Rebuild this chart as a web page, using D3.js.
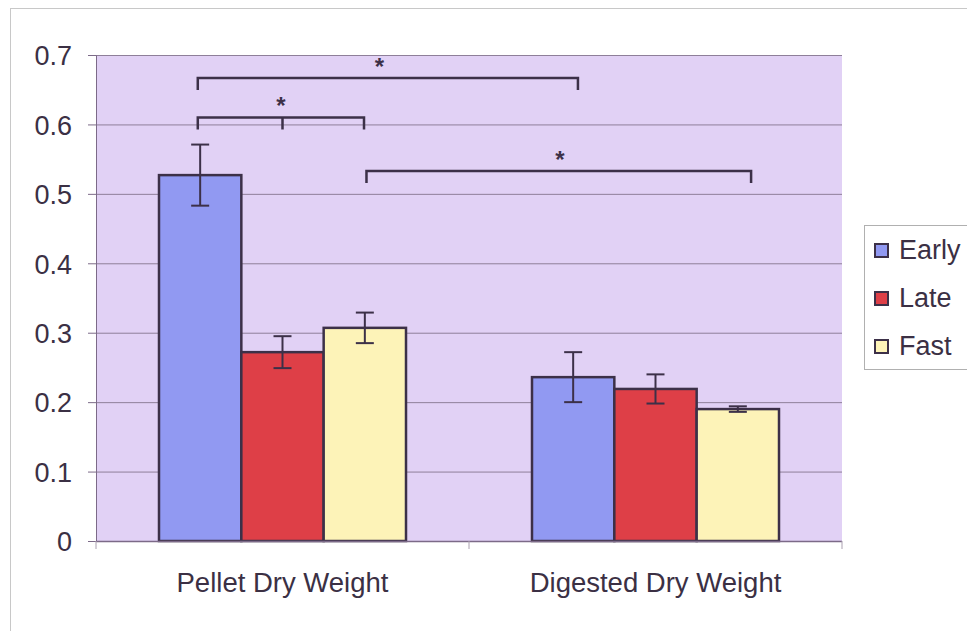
<!DOCTYPE html>
<html><head><meta charset="utf-8">
<script src="https://cdn.jsdelivr.net/npm/d3@7"></script>
<style>body{margin:0;background:#fff}svg{display:block}</style>
</head><body>
<svg id="c" width="967" height="631"></svg>
<script>
const categories = ["Pellet Dry Weight", "Digested Dry Weight"];
const seriesNames = ["Early", "Late", "Fast"];
const early = [0.527, 0.236];
const late = [0.272, 0.219];
const fast = [0.307, 0.190];
const earlyErr = [0.044, 0.036];
const lateErr = [0.023, 0.021];
const fastErr = [0.022, 0.004];
const yTicks = [0, 0.1, 0.2, 0.3, 0.4, 0.5, 0.6, 0.7];
// significance brackets: endpoints as [category index, position within group 0..1], level in data units
const brackets = [
  {from: [0, 0.157], to: [1, 0.186], mid: null, level: 0.667, starAt: 0.478, label: "*"},
  {from: [0, 0.157], to: [0, 0.83], mid: [0, 0.5], level: 0.610, starAt: 0.5, label: "*"},
  {from: [0, 0.84], to: [1, 0.887], mid: null, level: 0.533, starAt: 0.503, label: "*"}
];
const colors = ["#9199f2", "#de3f47", "#fdf3b8"];
const values = [early, late, fast];
const errs = [earlyErr, lateErr, fastErr];

const svg = d3.select("#c");
const m = {l: 96, r: 842, t: 55, b: 541};
const textCol = "#3b3044";
const lineCol = "#3c3048";
const font = "Liberation Sans, Arial, sans-serif";

// outer frame
svg.append("rect").attr("x", 10.5).attr("y", 8.5).attr("width", 970).attr("height", 640)
  .attr("fill", "#fff").attr("stroke", "#c8c8c8").attr("stroke-width", 1);

const x0 = d3.scaleBand().domain(categories).range([m.l, m.r]).paddingInner(0).paddingOuter(0);
const x1 = d3.scaleBand().domain(seriesNames).range([63, 63 + 247]).paddingInner(0).paddingOuter(0);
const y = d3.scaleLinear().domain([0, 0.7]).range([m.b, m.t]);

// plot background
svg.append("rect").attr("x", m.l).attr("y", m.t).attr("width", m.r - m.l).attr("height", m.b - m.t)
  .attr("fill", "#e1d1f5");

// gridlines
svg.append("g").selectAll("line").data(yTicks.filter(d => d > 0)).join("line")
  .attr("x1", m.l).attr("x2", m.r).attr("y1", d => y(d) + 0.5).attr("y2", d => y(d) + 0.5)
  .attr("stroke", "#8e7f99").attr("stroke-width", 1);

// y axis
const yAxis = d3.axisLeft(y).tickValues(yTicks).tickSize(8).tickPadding(16)
  .tickFormat(d => d === 0 ? "0" : d3.format(".1f")(d));
const ya = svg.append("g").attr("transform", `translate(${m.l},0)`).call(yAxis);
ya.select(".domain").attr("stroke", "#7c6a88");
ya.selectAll(".tick line").attr("stroke", "#7c6a88");
ya.selectAll("text").attr("font-family", font).attr("font-size", 27)
  .attr("fill", textCol).attr("dy", "0.36em");

// bars
const groups = svg.append("g").selectAll("g").data(categories).join("g")
  .attr("transform", d => `translate(${x0(d)},0)`);
groups.each(function(cat, ci) {
  const g = d3.select(this);
  seriesNames.forEach((s, si) => {
    const v = values[si][ci], e = errs[si][ci];
    const bx = x1(s), bw = x1.bandwidth();
    g.append("rect").attr("x", bx).attr("y", y(v)).attr("width", bw).attr("height", y(0) - y(v))
      .attr("fill", colors[si]).attr("stroke", lineCol).attr("stroke-width", 2.5);
    const cx = bx + bw / 2;
    g.append("line").attr("x1", cx).attr("x2", cx).attr("y1", y(v + e)).attr("y2", y(v - e))
      .attr("stroke", lineCol).attr("stroke-width", 2);
    [v + e, v - e].forEach(t => g.append("line").attr("x1", cx - 9).attr("x2", cx + 9)
      .attr("y1", y(t)).attr("y2", y(t)).attr("stroke", lineCol).attr("stroke-width", 2));
  });
});

// x axis
svg.append("line").attr("x1", m.l).attr("x2", m.r).attr("y1", m.b + 0.5).attr("y2", m.b + 0.5)
  .attr("stroke", "#7c6a88").attr("stroke-width", 1.5);
const xt = [m.l, m.l + x0.bandwidth(), m.r];
svg.append("g").selectAll("line").data(xt).join("line")
  .attr("x1", d => d).attr("x2", d => d).attr("y1", m.b).attr("y2", m.b + 8)
  .attr("stroke", "#aaa0b0");
svg.append("g").selectAll("text").data(categories).join("text")
  .attr("x", d => x0(d) + x0.bandwidth() / 2).attr("y", 592)
  .attr("text-anchor", "middle").attr("font-family", font)
  .attr("font-size", 27.5).attr("fill", textCol).text(d => d);

// brackets
const px = p => x0(categories[p[0]]) + x1.range()[0] + p[1] * (x1.range()[1] - x1.range()[0]);
brackets.forEach(b => {
  const yy = y(b.level), x1p = px(b.from), x2p = px(b.to);
  svg.append("path").attr("d", `M${x1p},${yy + 12}V${yy}H${x2p}V${yy + 12}`)
    .attr("fill", "none").attr("stroke", lineCol).attr("stroke-width", 2.5);
  if (b.mid) {
    const mx = px(b.mid);
    svg.append("line").attr("x1", mx).attr("x2", mx).attr("y1", yy).attr("y2", yy + 12)
      .attr("stroke", lineCol).attr("stroke-width", 2.5);
  }
  svg.append("text").attr("x", x1p + b.starAt * (x2p - x1p)).attr("y", yy - 3)
    .attr("text-anchor", "middle").attr("font-family", font)
    .attr("font-size", 24).attr("font-weight", "bold").attr("fill", lineCol).text(b.label);
});

// legend
const lg = svg.append("g");
lg.append("rect").attr("x", 864.5).attr("y", 225.5).attr("width", 110).attr("height", 144)
  .attr("fill", "#fff").attr("stroke", "#b0b0b0");
seriesNames.forEach((s, i) => {
  const yy = 249 + i * 48;
  lg.append("rect").attr("x", 875).attr("y", yy - 5).attr("width", 13).attr("height", 13)
    .attr("fill", colors[i]).attr("stroke", lineCol).attr("stroke-width", 2);
  lg.append("text").attr("x", 899).attr("y", yy + 10).attr("font-family", font)
    .attr("font-size", 27).attr("fill", textCol).text(s);
});
</script>
</body></html>
